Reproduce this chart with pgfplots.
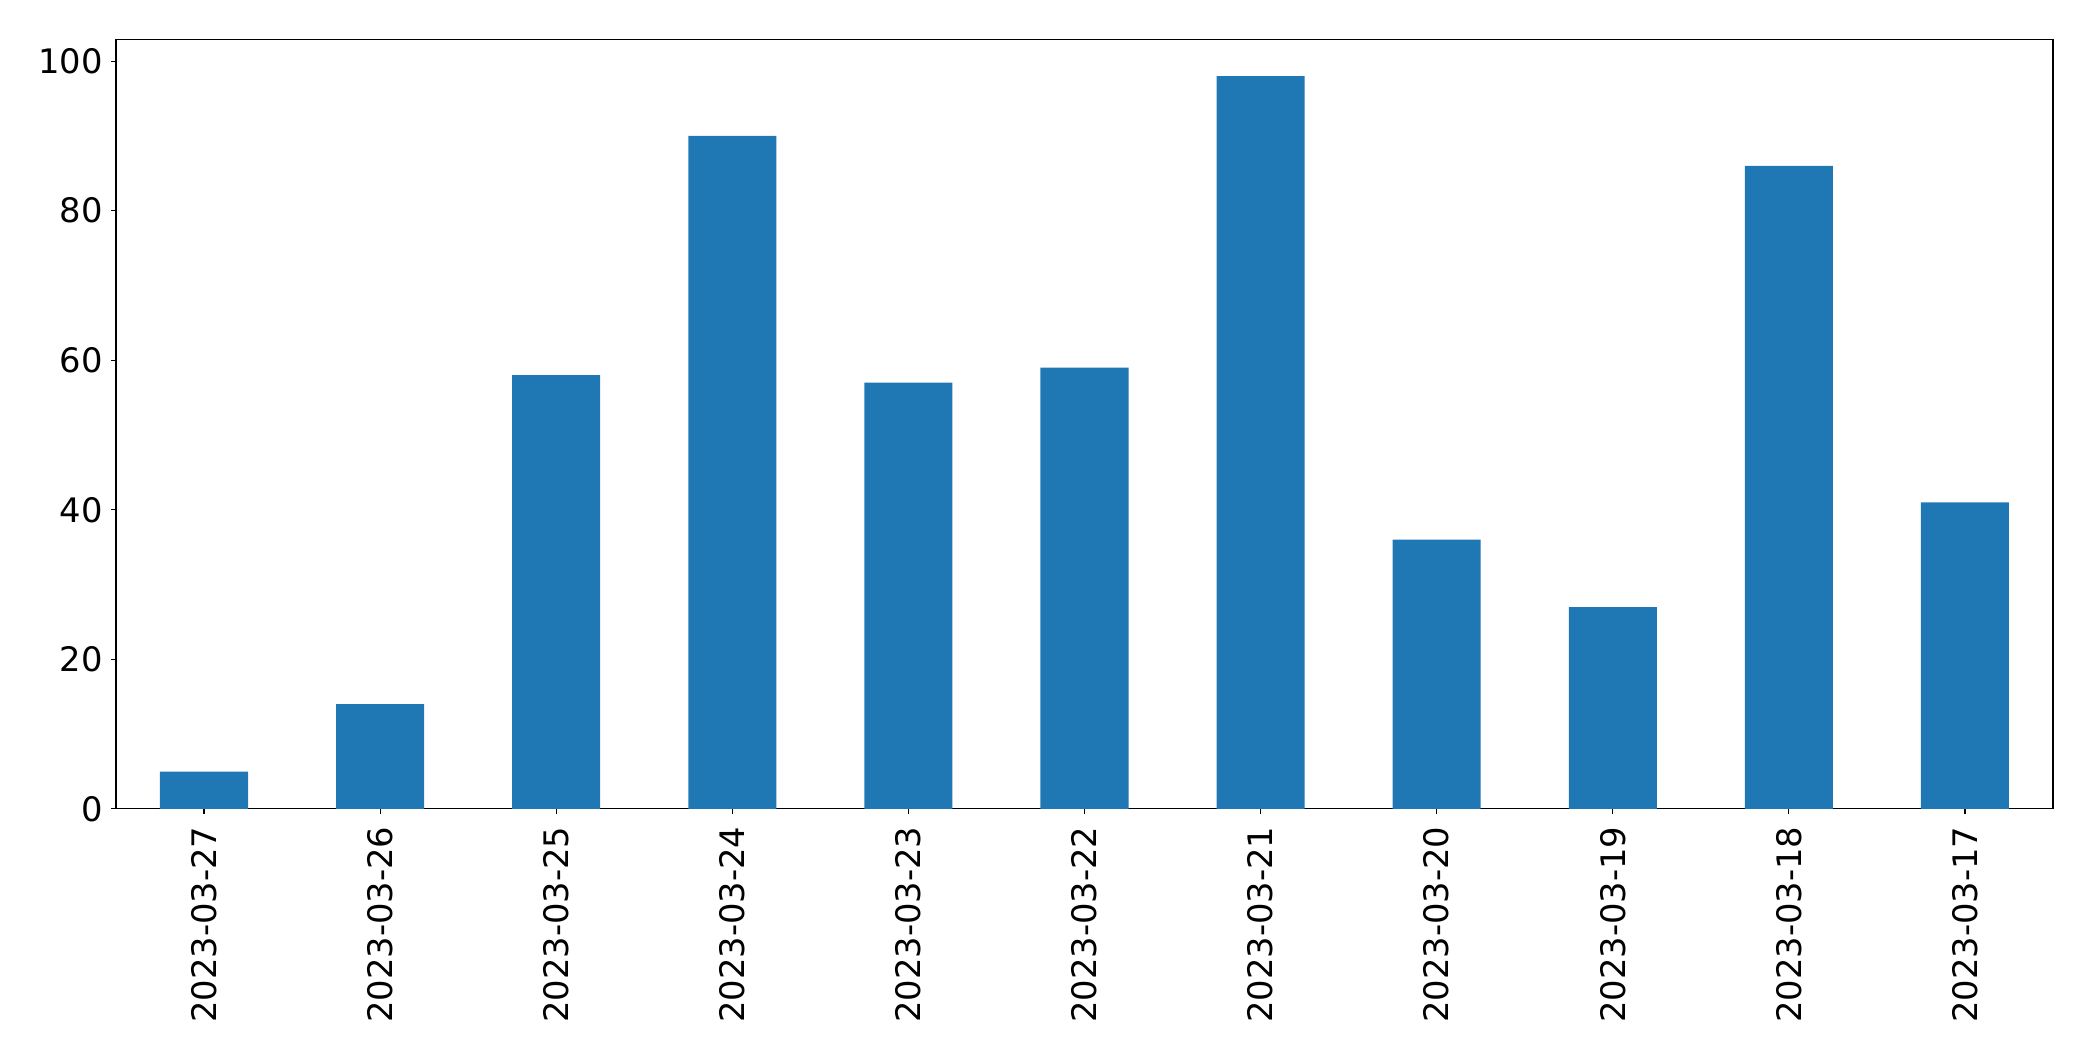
\documentclass[border=0pt]{standalone}
\usepackage{pgfplots}
\pgfplotsset{compat=1.18}
\usepackage{fontspec}
\setmainfont{DejaVu Sans}
\definecolor{mplblue}{HTML}{1F77B4}
\begin{document}
\begin{tikzpicture}
\begin{axis}[
  scale only axis,
  width=1394.6pt, height=554pt,
  xmin=-0.5, xmax=10.5,
  ymin=0, ymax=102.9,
  ytick={0,20,40,60,80,100},
  xtick={0,1,2,3,4,5,6,7,8,9,10},
  xticklabels={2023-03-27,2023-03-26,2023-03-25,2023-03-24,2023-03-23,2023-03-22,2023-03-21,2023-03-20,2023-03-19,2023-03-18,2023-03-17},
  x tick label style={rotate=90, anchor=east, inner sep=0pt},
  xticklabel shift=9pt,
  yticklabel shift=6pt,
  y tick label style={inner sep=0pt},
  tick align=outside,
  tick pos=left,
  major tick length=3.5pt,
  tick style={black, line width=0.8pt},
  axis line style={black, line width=0.8pt},
  ticklabel style={font=\fontsize{24.3}{29}\selectfont},
  /pgf/number format/assume math mode=true,
  ybar, bar width=0.5, bar shift=0pt,
]
\addplot[fill=mplblue, draw=none] coordinates {
(0,5) (1,14) (2,58) (3,90) (4,57) (5,59) (6,98) (7,36) (8,27) (9,86) (10,41)
};
\end{axis}
\path ([xshift=-83.5pt,yshift=-181.4pt]current axis.south west) rectangle ([xshift=28.8pt,yshift=28.4pt]current axis.north east);
\end{tikzpicture}
\end{document}
